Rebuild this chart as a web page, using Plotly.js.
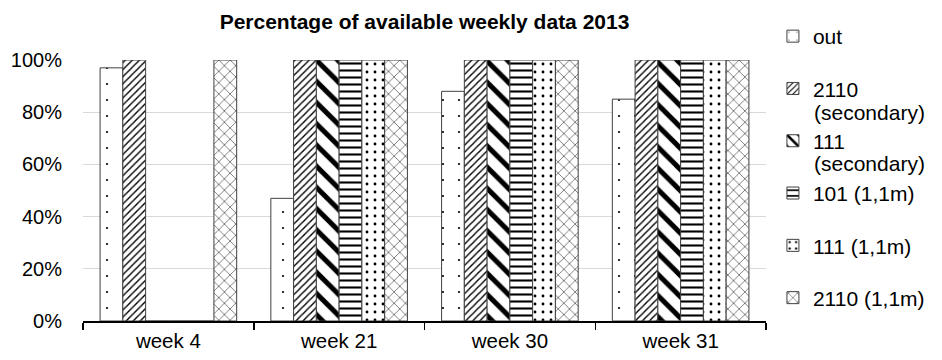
<!DOCTYPE html>
<html>
<head>
<meta charset="utf-8">
<script src="https://cdn.plot.ly/plotly-3.0.1.min.js"></script>
<style>html,body{margin:0;padding:0;background:#fff;}#chart{width:942px;height:360px;}</style>
</head>
<body>
<div id="chart"></div>
<script>
var categories = ["week 4", "week 21", "week 30", "week 31"];
var legendNames = ["out", "2110", "111", "101 (1,1m)", "111 (1,1m)", "2110 (1,1m)"];
var legendSecondLines = ["", "(secondary)", "(secondary)", "", "", ""];
var out_vals = [97, 47, 88, 85];
var s2110_secondary = [100, 100, 100, 100];
var s111_secondary = [0, 100, 100, 100];
var s101_11m = [0, 100, 100, 100];
var s111_11m = [0, 100, 100, 100];
var s2110_11m = [100, 100, 100, 100];
var yTickVals = [0, 20, 40, 60, 80, 100];
var yTickText = ["0%", "20%", "40%", "60%", "80%", "100%"];

var seriesValues = [out_vals, s2110_secondary, s111_secondary, s101_11m, s111_11m, s2110_11m];
var patterns = [
  {shape: ".", size: 16, solidity: 0.015},
  {shape: "/", size: 5, solidity: 0.28},
  {shape: "\\", size: 15, solidity: 0.33},
  {shape: "-", size: 7, solidity: 0.3},
  {shape: ".", size: 8, solidity: 0.1},
  {shape: "x", size: 8, solidity: 0.12}
];

var traces = seriesValues.map(function(vals, i) {
  var p = patterns[i];
  return {
    type: "bar",
    x: categories,
    y: vals,
    name: legendNames[i],
    legendgroup: "g" + i,
    marker: {
      color: "#ffffff",
      line: {color: "#404040", width: 1},
      pattern: {shape: p.shape, size: p.size, solidity: p.solidity, fgcolor: "#000000", fgopacity: 1, bgcolor: "#ffffff", fillmode: "overlay"}
    },
    hoverinfo: "none"
  };
});

// second lines of the wrapped legend labels
var plotTop = 60, plotBottom = 321;
var secondLineY = [0, 112, 163, 0, 0, 0];
var annotations = [];
legendSecondLines.forEach(function(t, i) {
  if (t) {
    annotations.push({
      text: t, xref: "paper", yref: "paper",
      x: (820 - 83) / 690, xanchor: "left",
      y: (plotBottom - secondLineY[i]) / (plotBottom - plotTop), yanchor: "middle",
      showarrow: false, font: {size: 21, color: "#000000"}, borderpad: 0
    });
  }
});

var layout = {
  width: 942,
  height: 360,
  margin: {l: 83, r: 169, t: 60, b: 39, pad: 0},
  paper_bgcolor: "#ffffff",
  plot_bgcolor: "#ffffff",
  font: {family: "Liberation Sans, Arial, sans-serif", size: 20, color: "#000000"},
  title: {text: "<b>Percentage of available weekly data 2013</b>", font: {size: 21, color: "#000000"}, x: 0.5, xref: "paper", xanchor: "center", y: 0.94, yref: "container", yanchor: "middle"},
  barmode: "group",
  bargap: 0.2,
  bargroupgap: 0,
  showlegend: true,
  legend: {
    x: (780 - 83) / 690, xanchor: "left", y: 1.1686, yanchor: "top",
    bgcolor: "rgba(0,0,0,0)",
    font: {size: 21},
    valign: "middle",
    tracegroupgap: 22,
    itemwidth: 30,
    maxheight: 350
  },
  annotations: annotations,
  xaxis: {
    type: "category",
    showgrid: false,
    showline: true,
    linecolor: "#000000",
    linewidth: 2,
    ticks: "outside",
    tickson: "boundaries",
    ticklen: 7,
    tickcolor: "#000000",
    tickwidth: 1.5,
    tickfont: {size: 20.5}
  },
  yaxis: {
    range: [0, 100],
    tickvals: yTickVals,
    ticktext: yTickText,
    showgrid: true,
    gridcolor: "#d9d9d9",
    gridwidth: 1,
    zeroline: false,
    showline: false,
    ticks: "",
    ticklabelstandoff: 20,
    tickfont: {size: 20}
  }
};

Plotly.newPlot("chart", traces, layout, {displayModeBar: false, staticPlot: true});
</script>
</body>
</html>
